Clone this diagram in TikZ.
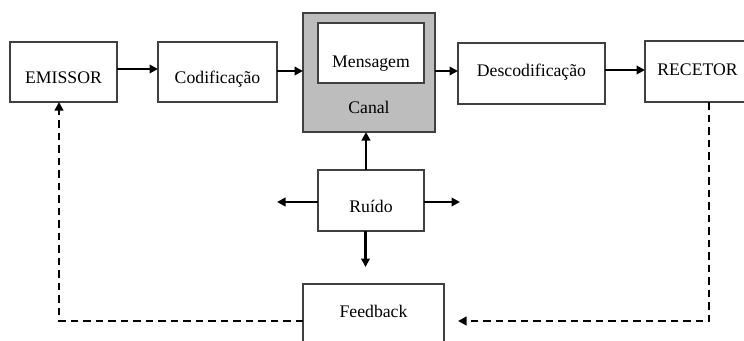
\documentclass[tikz,border=0pt]{standalone}
\usepackage{fontspec}
\setmainfont{Liberation Serif}
\usetikzlibrary{arrows.meta}
\begin{document}
\begin{tikzpicture}[x=1pt,y=-1pt,
  box/.style={draw=black!75,line width=1.3pt,fill=white,inner sep=0pt,outer sep=0pt,anchor=base,align=center,font=\fontsize{17.7}{20}\selectfont},
  arr/.style={line width=2.3pt,-{Triangle[length=8.5pt,width=8.5pt]}},
  darr/.style={line width=2.3pt,dash pattern=on 7.5pt off 5pt,-{Triangle[length=8.5pt,width=8.5pt]}}]
\clip (0,0) rectangle (744,340);
\fill[white] (0,0) rectangle (744,340);
% boxes
\node[box,minimum width=107pt,text height=41pt,text depth=19pt] (emissor) at (63.5,83) {EMISSOR};
\node[box,minimum width=119pt,text height=41pt,text depth=19pt] (codif) at (217.5,83) {Codificação};
\node[box,fill=black!26,minimum width=132pt,text height=100pt,text depth=19pt] (canal) at (369,113) {Canal};
\node[box,minimum width=106pt,text height=44pt,text depth=16pt] (msg) at (371,67) {Mensagem};
\node[box,minimum width=147pt,text height=33pt,text depth=28pt] (desc) at (531.5,76) {Descodificação};
\node[box,minimum width=105pt,text height=34pt,text depth=27pt] (recetor) at (697.5,75) {RECETOR};
\node[box,minimum width=106pt,text height=42pt,text depth=19pt] (ruido) at (371,212) {Ruído};
\node[box,minimum width=141pt,text height=33pt,text depth=28pt] (feedback) at (373.5,317) {Feedback};
% free ends
\coordinate (rl) at (277,202);
\coordinate (rr) at (460,202);
\coordinate (rd) at (365.5,267);
\coordinate (cr) at (709,321);
\coordinate (cl) at (59,321);
\coordinate (fbin) at (458,321);
% arrows
\draw[arr] (emissor.east |- 0,69) -- (codif.west |- 0,69);
\draw[arr] (codif.east |- 0,71) -- (canal.west |- 0,71);
\draw[arr] (canal.east |- 0,71) -- (desc.west |- 0,71);
\draw[arr] (desc.east |- 0,70) -- (recetor.west |- 0,70);
\draw[arr] (ruido.north -| 366,0) -- (canal.south -| 366,0);
\draw[arr] (ruido.west |- rl) -- (rl);
\draw[arr] (ruido.east |- rr) -- (rr);
\draw[arr] (ruido.south -| rd) -- (rd);
% feedback loop
\draw[darr] (recetor.south -| cr) -- (cr) -- (fbin);
\draw[darr] (feedback.west |- cl) -- (cl) -- (emissor.south -| cl);
\end{tikzpicture}
\end{document}
